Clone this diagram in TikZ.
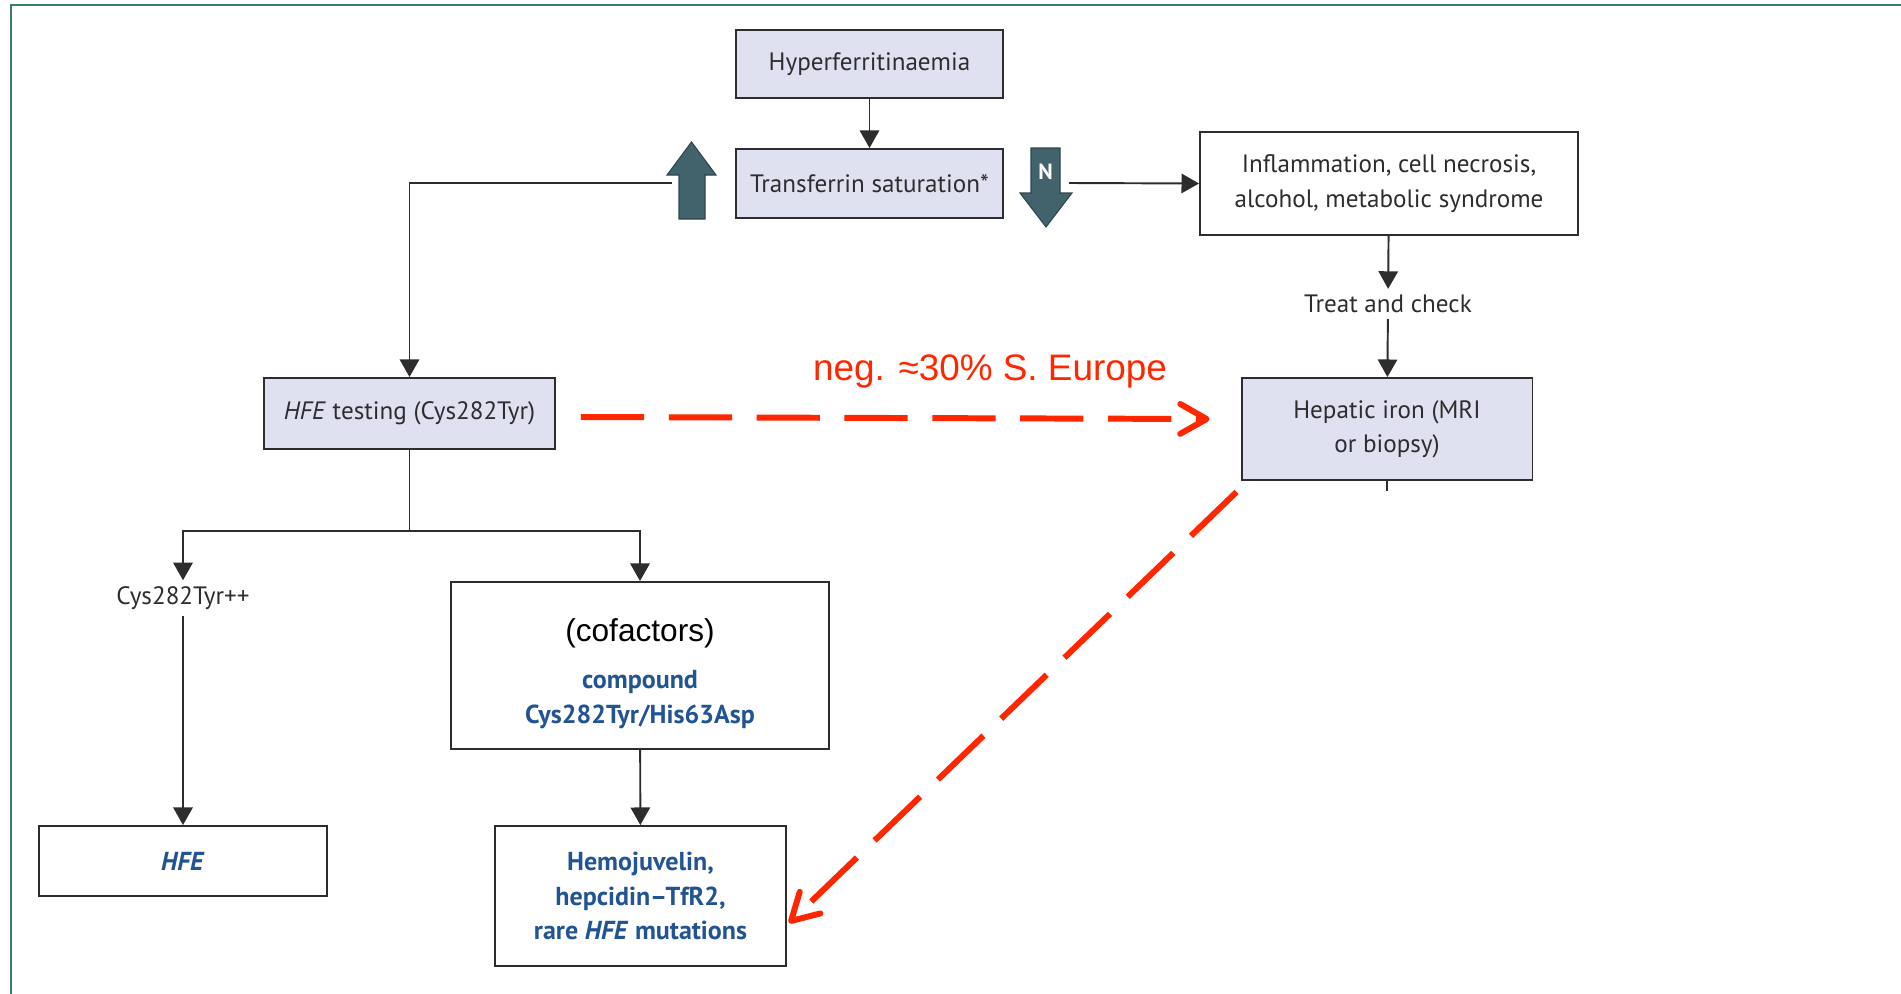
\documentclass[tikz,border=0pt]{standalone}
\usepackage{fontspec}
\setmainfont{PT Sans}
\newfontfamily\arialfont{Liberation Sans}
\usepackage{tikz}
\usetikzlibrary{arrows.meta, positioning}
\definecolor{boxfill}{RGB}{223,225,240}
\definecolor{boxline}{RGB}{45,45,45}
\definecolor{textgray}{RGB}{45,45,48}
\definecolor{mutblue}{RGB}{34,84,148}
\definecolor{satcolor}{RGB}{66,99,107}
\definecolor{negred}{RGB}{255,38,0}
\definecolor{framecolor}{RGB}{60,125,112}

\begin{document}
\begin{tikzpicture}[
    x=0.02cm, y=-0.02cm,
    every node/.style={font=\fontsize{14.3}{19.5}\selectfont, text=textgray},
    lavbox/.style={draw=boxline, line width=1.1pt, fill=boxfill, align=center, inner sep=0pt},
    whitebox/.style={draw=boxline, line width=1.1pt, fill=white, align=center, inner sep=0pt},
    bluetext/.style={text=mutblue, font=\fontsize{14.8}{19.5}\selectfont\bfseries},
    flow/.style={draw=boxline, line width=1.1pt, -{Triangle[length=10pt, width=11pt]}},
    negarrow/.style={draw=negred, line width=3.4pt, dash pattern=on 36pt off 14pt,
        -{Straight Barb[length=15pt, width=17pt, round]}},
    satarrow/.style={fill=satcolor, draw=satcolor!70!black, line width=0.6pt},
]
    \useasboundingbox (0,0) rectangle (1901,994);

    % Frame
    \draw[framecolor, line width=1.6pt] (11,994) -- (11,5) -- (1901,5);

    % Top boxes
    \node[lavbox, minimum width=5.34cm, minimum height=1.36cm] (hyper) at (869.5,64) {Hyperferritinaemia};
    \node[lavbox, minimum width=5.34cm, minimum height=1.38cm] (tsat) at (869.5,183.5) {Transferrin saturation*};
    \node[whitebox, minimum width=7.56cm, minimum height=2.06cm] (inflam) at (1389,183.5)
        {Inflammation, cell necrosis,\\alcohol, metabolic syndrome};
    \node (treat) at (1388,304) {Treat and check};
    \node[lavbox, minimum width=5.82cm, minimum height=2.04cm] (hepatic) at (1387,429)
        {Hepatic iron (MRI\\or biopsy)};

    % HFE branch
    \node[lavbox, minimum width=5.82cm, minimum height=1.42cm] (hfetest) at (409.5,413.5)
        {\textit{HFE} testing (Cys282Tyr)};
    \node (cys) at (183,598) {Cys282Tyr++};
    \node[whitebox, bluetext, minimum width=5.76cm, minimum height=1.40cm] (hfe) at (183,861) {\textit{HFE}};
    \node[whitebox, minimum width=7.56cm, minimum height=3.34cm] (cofac) at (640,665.5)
        {\rule{0pt}{22pt}{\arialfont\fontsize{18}{19}\selectfont\color{black}(cofactors)}\\[7.5pt]
         \textcolor{mutblue}{\fontsize{14.8}{19.5}\selectfont\bfseries compound}\\
         \textcolor{mutblue}{\fontsize{14.8}{19.5}\selectfont\bfseries Cys282Tyr/His63Asp}};
    \node[whitebox, bluetext, minimum width=5.82cm, minimum height=2.80cm] (hemo) at (640.5,896)
        {Hemojuvelin,\\hepcidin–TfR2,\\rare \textit{HFE} mutations};

    % Saturation up / normal
    \draw[satarrow] (679,219) -- (679,175) -- (667,175) -- (691.5,142) -- (716,175) -- (705,175) -- (705,219) -- cycle;
    \draw[satarrow] (1031,148) -- (1060,148) -- (1060,193) -- (1072,193) -- (1046,227) -- (1020,193) -- (1031,193) -- cycle;
    \node[text=white, font=\fontsize{12.5}{14}\selectfont\bfseries] (nmark) at (1045.5,172) {N};
    \coordinate (upleft) at (672,183);
    \coordinate (downright) at (1069,183);

    % Connectors
    \draw[flow] (hyper) -- (tsat);
    \draw[flow] (upleft) -| (hfetest.north);
    \draw[flow] (downright) -- (inflam.west);
    \draw[flow] (inflam) -- (treat);
    \draw[flow] (treat) -- (hepatic);
    \coordinate (hepstub) at (1387,491);
    \draw[boxline, line width=1.1pt] (hepatic.south) -- (hepstub);
    \coordinate (split) at (409.5,531);
    \draw[boxline, line width=1.1pt] (hfetest.south) -- (split);
    \draw[flow] (split) -| (cys.north);
    \draw[flow] (split) -| (cofac.north);
    \draw[flow] (cys) -- (hfe);
    \draw[flow] (cofac) -- (hemo);

    % Negative result
    \node[text=negred, font=\arialfont\fontsize{21}{24}\selectfont] (neglabel) at (990,371) {neg. ≈30\% S. Europe};
    \draw[negarrow] ([xshift=0.5cm, yshift=-0.07cm]hfetest.east) -- ([xshift=-0.62cm, yshift=0.2cm]hepatic.west);
    \draw[negarrow] ([xshift=-0.08cm, yshift=-0.22cm]hepatic.south west) -- ([xshift=0.04cm, yshift=-0.54cm]hemo.east);
\end{tikzpicture}
\end{document}
